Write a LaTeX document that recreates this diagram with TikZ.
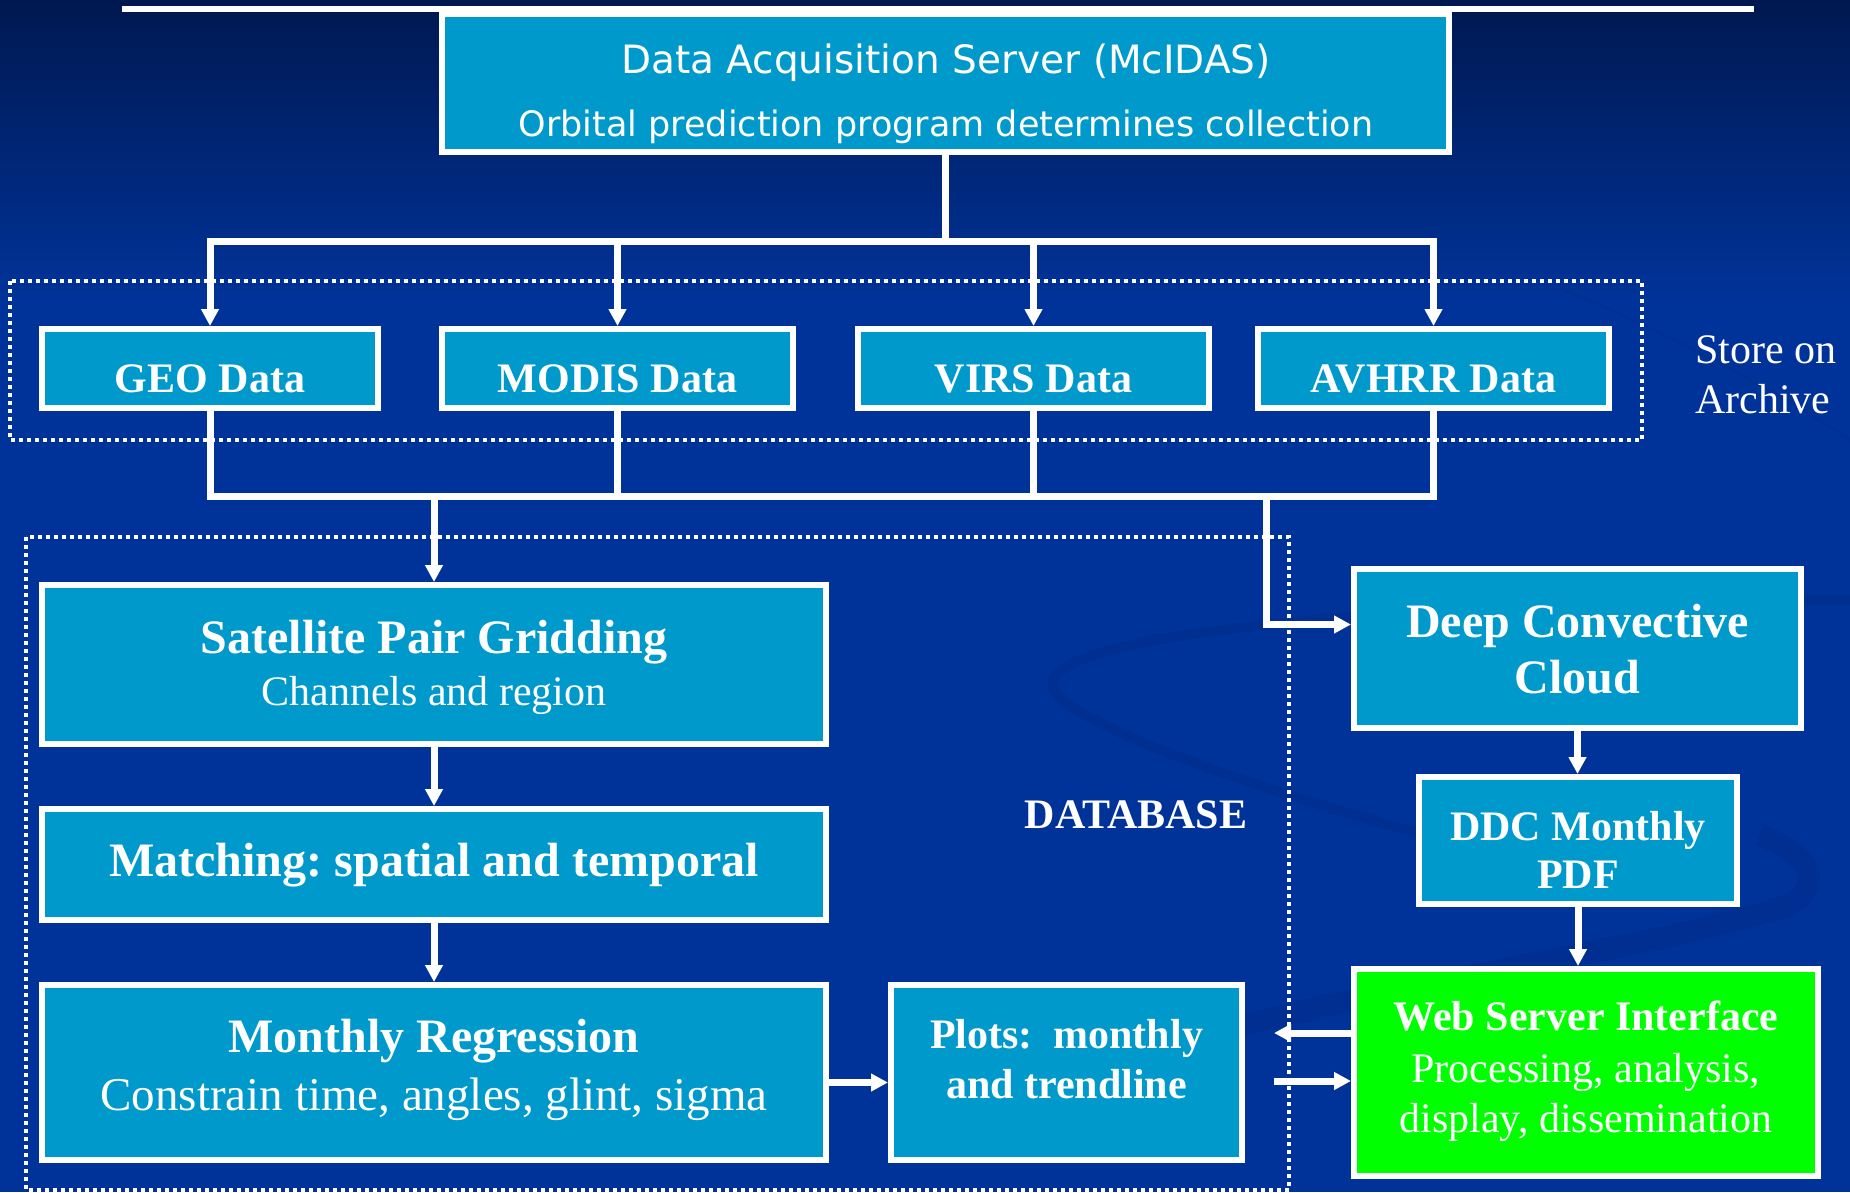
\documentclass[tikz,border=0pt]{standalone}
\usepackage{fontspec}
\setmainfont{Liberation Serif}
\newfontfamily\dvsans{DejaVu Sans}
\usetikzlibrary{arrows.meta}
\definecolor{bgblue}{RGB}{0,51,153}
\definecolor{bgtop}{RGB}{0,24,80}
\definecolor{boxc}{RGB}{0,153,204}
\definecolor{webg}{RGB}{0,255,0}
\definecolor{swooshc}{RGB}{0,46,145}
\definecolor{swooshd}{RGB}{0,48,148}
\frenchspacing
\begin{document}
\begin{tikzpicture}[x=1pt,y=-1pt,
  box/.style={rectangle, draw=white, line width=6pt, fill=boxc, inner sep=0pt},
  conn/.style={draw=white, line width=7pt},
  arr/.style={conn, -{Triangle[length=17pt,width=17pt]}},
  dots/.style={draw=white, line width=4pt, dash pattern=on 4pt off 4pt},
  lbl/.style={text=white, inner sep=0pt, anchor=base},
  bA/.style={lbl, font=\fontsize{42}{50}\selectfont\bfseries},
  bB/.style={lbl, font=\fontsize{48}{56}\selectfont\bfseries},
  rA/.style={lbl, font=\fontsize{42}{50}\selectfont},
  rB/.style={lbl, font=\fontsize{47}{55}\selectfont},
  sA/.style={lbl, font=\dvsans\fontsize{39}{47}\selectfont},
  sB/.style={lbl, font=\dvsans\fontsize{35}{42}\selectfont}]
\useasboundingbox (0,0) rectangle (1850,1192);
% background
\fill[bgblue] (0,0) rectangle (1850,1192);
\shade[top color=bgtop, bottom color=bgblue] (0,0) rectangle (1850,300);
% faint swoosh
\draw[swooshc, line width=10pt] (1850,600) .. controls (1450,600) and (1000,630) .. (1058,695)
  .. controls (1110,750) and (1450,850) .. (1640,885);
\draw[swooshc, line width=22pt] (1150,1050) .. controls (1350,990) and (1650,950) .. (1790,905)
  .. controls (1830,880) and (1800,850) .. (1760,835);
\draw[swooshd, line width=3pt] (1557,287) .. controls (1640,320) and (1760,380) .. (1850,440);
% top rule
\draw[white, line width=6pt] (122,9) -- (1754,9);
% dotted groups
\draw[dots] (10,281) rectangle (1642,440);
\draw[dots] (26,537) rectangle (1289,1190);
% boxes
\node[box, minimum width=1007pt, minimum height=138pt] (top) at (945.5,83) {};
\node[box, minimum width=336pt, minimum height=79pt] (geo) at (210,368.5) {};
\node[box, minimum width=351pt, minimum height=79pt] (modis) at (617.5,368.5) {};
\node[box, minimum width=351pt, minimum height=79pt] (virs) at (1033.5,368.5) {};
\node[box, minimum width=351pt, minimum height=79pt] (avhrr) at (1433.5,368.5) {};
\node[box, minimum width=784pt, minimum height=159pt] (sat) at (434,664.5) {};
\node[box, minimum width=784pt, minimum height=111pt] (match) at (434,864.5) {};
\node[box, minimum width=784pt, minimum height=175pt] (monthly) at (434,1072.5) {};
\node[box, minimum width=351pt, minimum height=175pt] (plots) at (1066.5,1072.5) {};
\node[box, minimum width=447pt, minimum height=159pt] (dcc) at (1577.5,648.5) {};
\node[box, minimum width=318pt, minimum height=127pt] (ddc) at (1578,840.5) {};
\node[box, fill=webg, minimum width=464pt, minimum height=207pt] (web) at (1586,1072.5) {};
% connectors
\coordinate (busA) at (946,241);
\coordinate (busB) at (434,496);
\coordinate (busC) at (1266,496);
\coordinate (wl) at (1274,1033);
\coordinate (wr) at (1274,1081);
\draw[arr] (top.south) -- (top.south |- busA) -| (geo.north);
\draw[arr] (top.south) -- (top.south |- busA) -| (modis.north);
\draw[arr] (top.south) -- (top.south |- busA) -| (virs.north);
\draw[arr] (top.south) -- (top.south |- busA) -| (avhrr.north);
\draw[conn] (geo.south) |- (avhrr.south |- busB) -- (avhrr.south);
\draw[conn] (modis.south) -- (modis.south |- busB);
\draw[conn] (virs.south) -- (virs.south |- busB);
\draw[arr] (busB) -- (sat.north);
\draw[arr] (busC) |- ([yshift=24pt]dcc.west);
\draw[arr] (sat.south) -- (match.north);
\draw[arr] (match.south) -- (monthly.north);
\draw[arr] ([yshift=-10pt]monthly.east) -- ([yshift=-10pt]plots.west);
\draw[arr] (dcc.south) -- (dcc.south |- ddc.north);
\draw[arr] (ddc.south) -- (ddc.south |- web.north);
\draw[arr] ([yshift=39.5pt]web.west) -- (wl);
\draw[arr] (wr) -- ([yshift=-8.5pt]web.west);
% texts
\node[sA] (topt1) at (946,73) {Data Acquisition Server (McIDAS)};
\node[sB] (topt2) at (946,136) {Orbital prediction program determines collection};
\node[bA] (geot) at (210,392) {GEO Data};
\node[bA] (modist) at (617.5,392) {MODIS Data};
\node[bA] (virst) at (1033.5,392) {VIRS Data};
\node[bA] (avhrrt) at (1433.5,392) {AVHRR Data};
\node[rA, anchor=base west] (store1) at (1695,363.6) {Store on};
\node[rA, anchor=base west] (store2) at (1695,413) {Archive};
\node[bB] (satt1) at (434,653) {Satellite Pair Gridding};
\node[rA] (satt2) at (434,705) {Channels and region};
\node[bB] (matcht) at (434,876) {Matching: spatial and temporal};
\node[bB] (montht1) at (434,1052) {Monthly Regression};
\node[rB] (montht2) at (434,1110) {Constrain time, angles, glint, sigma};
\node[bA] (plotst1) at (1066.5,1048) {Plots:~ monthly};
\node[bA] (plotst2) at (1066.5,1098) {and trendline};
\node[bA] (dbt) at (1136,828) {DATABASE};
\node[bB] (dcct1) at (1577.5,637) {Deep Convective};
\node[bB] (dcct2) at (1577.5,693) {Cloud};
\node[bA] (ddct1) at (1578,840) {DDC Monthly};
\node[bA] (ddct2) at (1578,888.5) {PDF};
\node[bA] (webt1) at (1586,1030) {Web Server Interface};
\node[rA] (webt2) at (1586,1082) {Processing, analysis,};
\node[rA] (webt3) at (1586,1132) {display, dissemination};
\end{tikzpicture}
\end{document}
